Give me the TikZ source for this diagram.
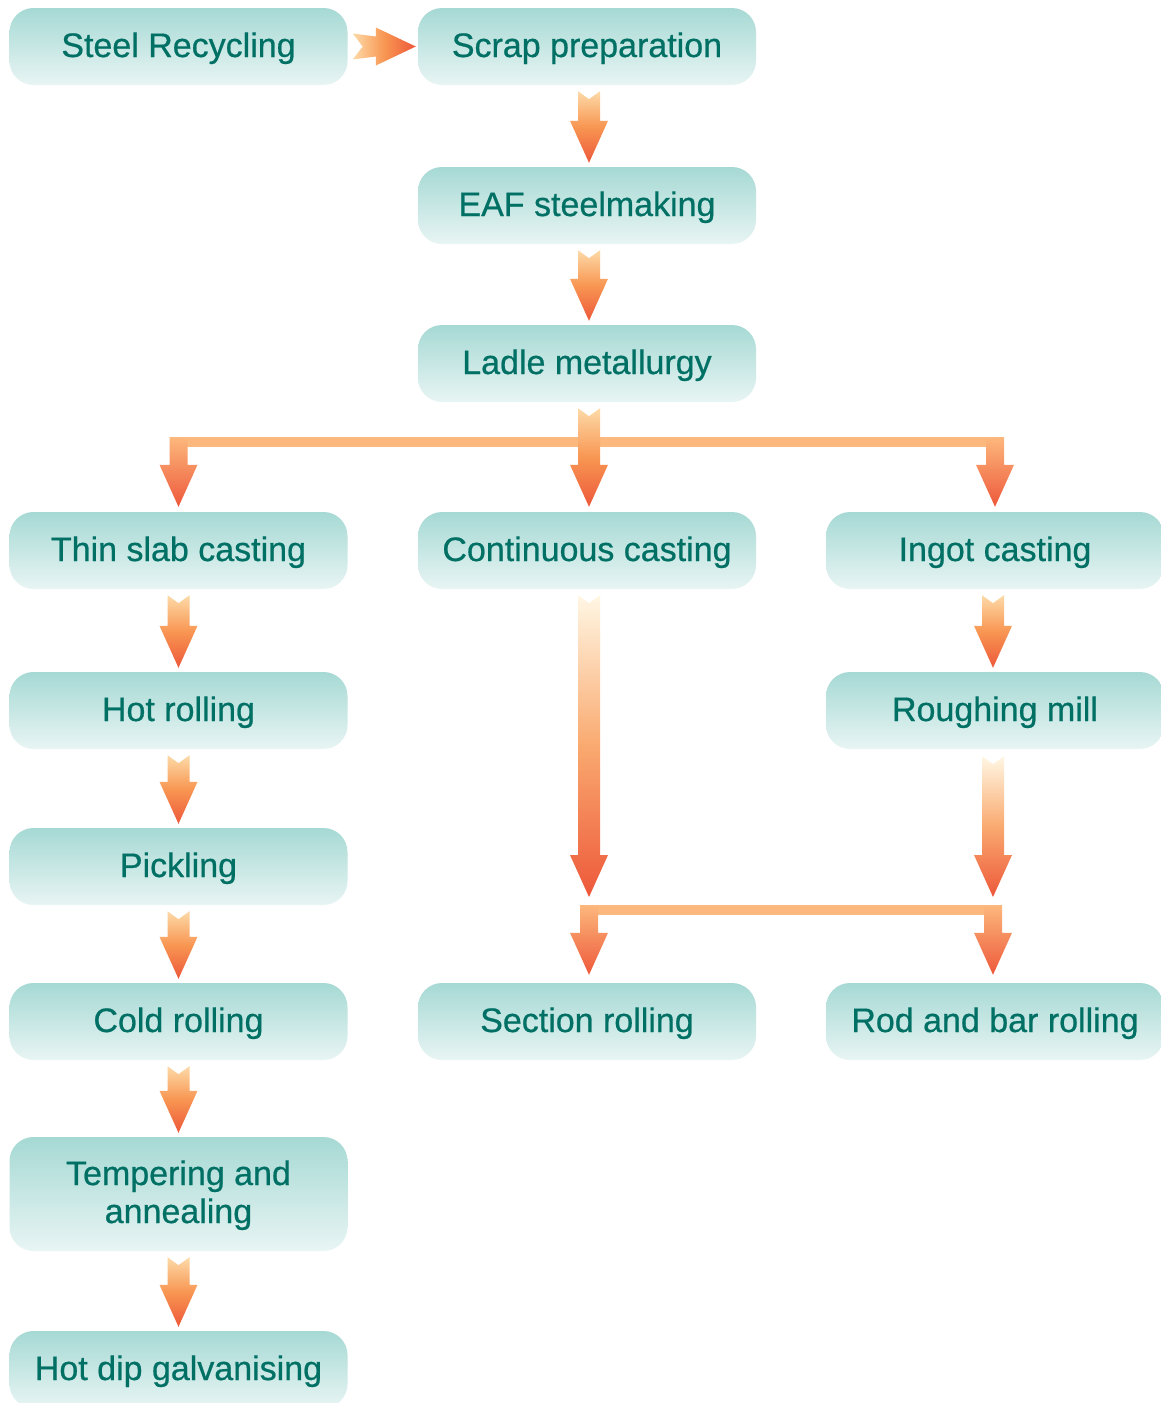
\documentclass[tikz,border=0pt]{standalone}
\usepackage{fontspec}
\setmainfont{Liberation Sans}
\newfontfamily\boxfont{Liberation Sans}[FakeBold=0.6]
\usetikzlibrary{calc}
\definecolor{boxtop}{RGB}{166,217,212}
\definecolor{boxbot}{RGB}{232,245,244}
\definecolor{txt}{RGB}{0,112,101}
\definecolor{arrlight}{RGB}{253,218,168}
\definecolor{arrmid}{RGB}{248,150,82}
\definecolor{arrred}{RGB}{237,88,58}
\definecolor{cream}{RGB}{255,247,228}
\definecolor{barc}{RGB}{253,184,125}
\newcommand\fatdown[3][]{%
  \shade[#1] let \p1=#2, \p2=#3 in
    (\x1-11pt,\y1) -- (\x1,\y1-8pt) -- (\x1+11pt,\y1) -- (\x1+11pt,\y2+42pt)
    -- (\x1+19pt,\y2+42pt) -- (\x1,\y2) -- (\x1-19pt,\y2+42pt) -- (\x1-11pt,\y2+42pt) -- cycle;}
\newcommand\fatleg[3][]{%
  \shade[#1] let \p1=#2, \p2=#3 in
    (\x1-9pt,\y1) -- (\x1+9pt,\y1) -- (\x1+9pt,\y2+42pt)
    -- (\x1+19pt,\y2+42pt) -- (\x1,\y2) -- (\x1-19pt,\y2+42pt) -- (\x1-9pt,\y2+42pt) -- cycle;}
\newcommand\fatright[3][]{%
  \shade[#1] let \p1=#2, \p2=#3 in
    (\x1,\y1+13pt) -- (\x1+10pt,\y1) -- (\x1,\y1-13pt) -- (\x2-40pt,\y1-10pt)
    -- (\x2-40pt,\y1-19pt) -- (\x2,\y1) -- (\x2-40pt,\y1+19pt) -- (\x2-40pt,\y1+10pt) -- cycle;}
\begin{document}
\begin{tikzpicture}[x=1pt,y=1pt,
  box/.style={rounded corners=24pt, minimum width=338pt, minimum height=77pt,
    inner sep=0pt, top color=boxtop, bottom color=boxbot, draw=none, text=txt,
    font=\boxfont\fontsize{34}{38}\selectfont, align=center,
    text height=26pt, text depth=5pt},
  shortarrow/.style={top color=arrlight, bottom color=arrred, middle color=arrmid},
  longarrow/.style={top color=cream, bottom color=arrred, middle color=arrmid!80!cream},
  legarrow/.style={top color=barc, bottom color=arrred},
  rightarrow/.style={left color=arrlight, right color=arrred, middle color=arrmid}]
\useasboundingbox (0,0) rectangle (1161,-1403);
\clip (0,0) rectangle (1161,-1403);
\fill[white] (0,0) rectangle (1161,-1403);
% nodes
\node[box] (recyc) at (178.5,-46.5) {Steel Recycling};
\node[box] (scrap) at (587,-46.5) {Scrap preparation};
\node[box] (eaf) at (587,-205.5) {EAF steelmaking};
\node[box] (ladle) at (587,-363.5) {Ladle metallurgy};
\node[box] (thin) at (178.5,-550.5) {Thin slab casting};
\node[box] (cont) at (587,-550.5) {Continuous casting};
\node[box] (ingot) at (995,-550.5) {Ingot casting};
\node[box] (hot) at (178.5,-710.5) {Hot rolling};
\node[box] (rough) at (995,-710.5) {Roughing mill};
\node[box] (pick) at (178.5,-866.5) {Pickling};
\node[box] (cold) at (178.5,-1021.5) {Cold rolling};
\node[box] (section) at (587,-1021.5) {Section rolling};
\node[box] (rod) at (995,-1021.5) {Rod and bar rolling};
\node[box, minimum height=114pt, text height=63pt] (temper) at (178.5,-1194) {Tempering and\\annealing};
\node[box] (galv) at (178.5,-1369.5) {Hot dip galvanising};
% junction coordinates
\coordinate (bar1) at (589,-442);
\coordinate (bar2) at (589,-910);
% simple arrows
\fatright[rightarrow]{($(recyc.east)+(5,0)$)}{($(scrap.west)+(-2,0)$)}
\fatdown[shortarrow]{($(scrap.south)+(2,-6)$)}{($(eaf.north)+(2,4)$)}
\fatdown[shortarrow]{($(eaf.south)+(2,-6)$)}{($(ladle.north)+(2,4)$)}
\fatdown[shortarrow]{($(thin.south)+(0,-6)$)}{($(hot.north)+(0,4)$)}
\fatdown[shortarrow]{($(hot.south)+(0,-6)$)}{($(pick.north)+(0,4)$)}
\fatdown[shortarrow]{($(pick.south)+(0,-6)$)}{($(cold.north)+(0,4)$)}
\fatdown[shortarrow]{($(cold.south)+(0,-6)$)}{($(temper.north)+(0,4)$)}
\fatdown[shortarrow]{($(temper.south)+(0,-6)$)}{($(galv.north)+(0,4)$)}
\fatdown[shortarrow]{($(ingot.south)+(-2,-6)$)}{($(rough.north)+(-2,4)$)}
% first branch
\fill[barc] ($(thin.north |- bar1)+(-9,5)$) rectangle ($(ingot.north |- bar1)+(9,-5)$);
\fatleg[legarrow]{($(thin.north |- bar1)+(0,5)$)}{($(thin.north)+(0,5)$)}
\fatleg[legarrow]{($(ingot.north |- bar1)+(0,5)$)}{($(ingot.north)+(0,5)$)}
\fatdown[shortarrow]{($(ladle.south)+(2,-6)$)}{($(cont.north)+(2,5)$)}
% long arrows into second branch
\fatdown[longarrow]{($(cont.south)+(2,-6)$)}{($(bar2)+(0,13)$)}
\fatdown[longarrow]{($(rough.south)+(-2,-7)$)}{($(rough.south |- bar2)+(-2,13)$)}
% second branch
\fill[barc] ($(bar2)+(-9,5)$) rectangle ($(rod.north |- bar2)+(7,-5)$);
\fatleg[legarrow]{($(bar2)+(0,5)$)}{($(section.north)+(2,8)$)}
\fatleg[legarrow]{($(rod.north |- bar2)+(-2,5)$)}{($(rod.north)+(-2,8)$)}
\end{tikzpicture}
\end{document}
